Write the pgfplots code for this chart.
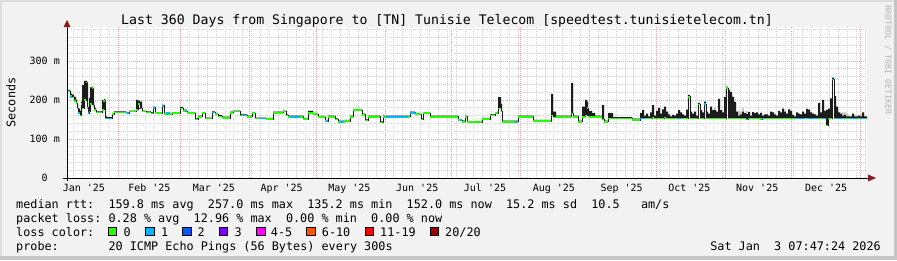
\documentclass[border=0pt]{standalone}
\usepackage{pgfplots}
\pgfplotsset{compat=1.18}
\usepgfplotslibrary{fillbetween}
\usepackage{pgfplotstable}
\usepackage{fontspec}
\setmainfont{DejaVu Sans Mono}
\setmonofont{DejaVu Sans Mono}
\definecolor{bgc}{HTML}{F2F2F2}
\definecolor{frameL}{HTML}{DCDCDC}
\definecolor{frameD}{HTML}{C4C4C4}
\definecolor{lc0}{HTML}{26FF00}
\definecolor{lc1}{HTML}{00B8FF}
\definecolor{lc2}{HTML}{0059FF}
\definecolor{lc3}{HTML}{7E00FF}
\definecolor{lc4}{HTML}{FF00FF}
\definecolor{lc6}{HTML}{FF5500}
\definecolor{lc11}{HTML}{FF0000}
\definecolor{lc20}{HTML}{A10000}
\definecolor{mgrid}{HTML}{F2A0A0}
\definecolor{ngrid}{HTML}{D6D6D6}
\definecolor{arr}{HTML}{8B1A1A}
\definecolor{smoke}{HTML}{1C1C1C}
\definecolor{smokeg}{HTML}{C8C8C8}
\definecolor{rrdg}{HTML}{B4B4B4}
\newcommand\lgfont{\ttfamily\fontsize{11.8}{14}\selectfont}
\newcommand\tkfont{\ttfamily\fontsize{10}{12}\selectfont}

\pgfplotstableread{
x m t g
7.90 224 228 228
8.35 222 226 226
9.25 210 216 216
10.15 206 214 214
11.05 198 208 208
11.95 192 200 200
12.40 178 190 190
12.85 166 178 178
13.75 160 172 172
14.20 190 196 196
14.65 178 238 238
15.55 200 249 249
16.45 245 249 249
16.90 180 240 240
17.35 166 172 172
17.80 170 205 205
18.25 190 232 232
19.15 230 234 234
19.60 185 200 200
20.05 174 180 180
20.95 168 171 171
23.65 175 200 200
24.55 198 202 202
25.00 152 158 158
25.90 153 156 156
28.15 164 167 167
29.05 168 171 171
34.45 166 169 169
35.80 170 173 173
38.95 175 200 200
39.85 190 198 198
40.75 178 196 196
41.65 170 173 173
43.45 168 171 171
45.70 165 168 168
46.60 180 183 183
47.50 166 169 169
50.65 185 188 188
51.55 164 167 167
55.15 166 169 169
58.75 178 182 182
60.10 172 175 175
61.90 166 169 169
65.50 150 153 153
66.85 157 160 160
68.65 166 169 169
70.00 152 155 155
73.15 168 171 171
74.50 164 167 167
75.85 158 161 161
77.65 154 157 157
81.25 167 170 170
82.60 170 173 173
85.75 160 163 163
88.90 157 160 160
91.15 166 169 169
92.50 152 155 155
97.45 151 154 154
100.60 167 170 170
105.10 170 173 173
106.45 160 163 163
107.35 157 160 160
114.10 151 154 154
116.35 166 172 172
118.60 164 167 167
120.85 156 159 159
124.00 146 149 149
125.35 157 160 160
128.50 150 153 153
129.85 144 147 147
133.00 146 149 149
135.25 157 160 160
136.60 174 177 177
140.65 162 165 165
142.00 147 150 150
143.35 157 160 160
148.75 142 145 145
150.10 157 160 160
162.25 167 170 170
164.50 164 167 167
167.20 150 153 153
168.10 166 169 169
171.25 157 160 160
183.85 148 151 151
185.65 144 147 147
187.00 157 160 160
187.90 143 146 146
194.65 151 154 154
198.25 160 163 163
200.50 166 169 169
201.85 178 207 207
203.20 170 190 190
203.65 144 147 147
210.85 157 160 160
217.60 146 149 149
225.70 160 215 215
226.60 155 170 170
227.95 157 160 160
234.70 165 243 243
235.60 157 160 160
237.85 144 147 147
239.65 157 183 183
241.00 160 200 200
241.90 179 196 196
242.35 157 172 172
244.15 157 166 166
245.50 157 160 160
248.65 150 187 187
249.55 144 147 147
251.35 153 166 166
253.60 153 156 156
262.15 149 152 152
265.75 152 166 166
266.65 152 174 174
267.55 153 160 160
268.45 153 165 165
269.35 153 158 158
270.25 153 168 168
271.15 155 187 187
272.05 153 160 160
272.95 153 172 172
273.85 153 180 180
274.75 153 165 165
275.65 153 176 176
276.55 155 183 183
277.45 153 170 170
278.35 153 163 163
279.25 153 158 158
280.15 153 162 162
281.05 153 160 160
281.95 153 165 165
282.85 153 174 174
283.75 153 168 168
284.65 152 163 163
285.55 152 160 160
286.45 153 175 175
287.35 208 213 213
288.25 153 170 170
289.15 153 165 165
290.05 153 170 170
290.95 153 160 160
291.85 188 192 192
292.75 153 174 174
293.65 153 168 168
294.55 190 196 196
295.45 153 170 170
296.35 153 165 165
297.25 153 183 183
298.15 153 174 174
299.05 153 174 183
299.95 153 170 170
300.85 153 203 203
301.75 153 174 174
302.65 153 168 168
303.55 153 208 208
304.45 230 234 234
305.35 153 226 226
306.25 153 220 220
307.15 153 208 208
308.05 153 195 195
308.95 153 170 170
309.85 153 160 173
310.75 153 163 170
311.65 153 170 180
312.55 153 166 166
313.45 150 164 172
314.35 153 169 169
315.25 153 160 160
316.15 153 169 169
317.05 153 166 166
317.95 153 168 168
318.85 153 163 163
319.75 151 166 170
320.65 153 160 160
321.55 153 163 163
322.45 153 163 163
323.35 152 160 160
324.25 152 170 170
325.15 152 168 168
326.05 152 163 163
326.95 152 160 160
327.85 152 172 172
328.75 152 168 168
329.65 152 178 178
330.55 152 170 170
331.45 152 165 165
332.35 152 176 176
333.25 152 172 172
334.15 152 162 162
335.05 152 158 158
335.95 152 168 168
336.85 152 165 165
337.75 152 163 163
338.65 152 170 170
339.55 152 165 165
340.45 152 177 177
341.35 152 175 175
342.25 152 168 168
343.15 152 165 165
344.05 152 163 163
344.95 152 160 160
345.85 152 192 192
346.75 152 168 168
347.65 152 200 200
348.55 152 172 172
349.45 135 175 175
350.35 152 178 178
351.25 152 204 204
352.15 252 257 257
353.05 152 210 210
353.95 152 183 183
354.85 152 168 168
355.75 152 165 165
356.65 152 160 168
357.55 152 162 168
358.45 152 158 165
359.35 152 158 162
360.25 152 158 158
361.15 152 165 165
362.05 152 158 160
362.95 152 158 162
363.85 152 160 160
364.75 152 158 163
365.65 152 168 168
366.55 152 158 158
367.45 152 158 158
367.90 152 158 158
}\rtt

\newcommand\lgt[3]{\node[anchor=base west, inner sep=0pt, font=\lgfont] at ({16pt+#1*7.1pt},{-#2pt}) {#3};}
\newcommand\lbox[2]{\filldraw[fill=#2, draw=black, line width=0.8pt] ({#1pt},-227pt) rectangle ({#1pt+8.5pt},-235.5pt);}

\begin{document}
\begin{tikzpicture}
\begin{axis}[
  set layers, clip=false,
  at={(67pt,-178pt)}, anchor=south west,
  scale only axis, width=800pt, height=151pt,
  xmin=7.9, xmax=367.9, ymin=0, ymax=387,
  axis line style={draw=none},
  major tick length=0pt, minor tick length=0pt,
  xtick={31,59,90,120,151,181,212,243,273,304,334,365},
  xticklabels={},
  minor xtick={11,15,...,367},
  ytick={0,100,200,300},
  yticklabels={{0\hphantom{xx}},100 m,200 m,300 m},
  minor ytick={20,40,60,80,120,140,160,180,220,240,260,280,320,340,360,380},
  grid=both,
  major grid style={mgrid, dash pattern=on 1pt off 1pt, line width=0.8pt},
  minor grid style={ngrid, dash pattern=on 1pt off 1pt, line width=0.8pt},
  extra x ticks={15.5,45,74,104.5,135,165.5,196,227,257.5,288,318.5,349.5},
  extra x tick labels={Jan '25,Feb '25,Mar '25,Apr '25,May '25,Jun '25,Jul '25,Aug '25,Sep '25,Oct '25,Nov '25,Dec '25},
  extra x tick style={grid=none},
  xticklabel style={font=\tkfont, anchor=base, inner sep=0pt, yshift=-13pt},
  yticklabel style={font=\tkfont, anchor=east, inner sep=0pt, xshift=-7pt},
  /pgf/number format/assume math mode=true,
  unbounded coords=jump,
]
\begin{pgfonlayer}{axis background}
\fill[bgc] (axis description cs:-0.08375,1.178808) rectangle (axis description cs:1.0375,-0.543046);
\fill[frameL] (axis description cs:-0.08375,1.178808) rectangle (axis description cs:1.0375,1.165563);
\fill[frameL] (axis description cs:-0.08375,1.178808) rectangle (axis description cs:-0.08125,-0.543046);
\fill[frameD] (axis description cs:-0.08375,-0.516556) rectangle (axis description cs:1.0375,-0.543046);
\fill[frameD] (axis description cs:1.03375,1.178808) rectangle (axis description cs:1.0375,-0.543046);
\fill[white] (axis description cs:0,0) rectangle (axis description cs:1,1);
\end{pgfonlayer}
\addplot[name path=G, draw=none, const plot] table[x=x,y=g]{\rtt};
\addplot[name path=T, draw=none, const plot] table[x=x,y=t]{\rtt};
\addplot[name path=M, draw=none, const plot] table[x=x,y=m]{\rtt};
\addplot[smokeg] fill between[of=G and T];
\addplot[smoke] fill between[of=T and M];
\addplot[smoke, line width=0.7pt, const plot] table[x=x,y=m]{\rtt};
\addplot[lc0, line width=1.6pt, jump mark left] table[x=x,y=m]{\rtt};
\addplot[lc1, line width=1.6pt] coordinates {
(7.90,224)(8.80,224)(8.80,nan)
(9.25,208)(10.15,208)(10.15,nan)
(12.85,166)(13.75,166)(13.75,nan)
(17.35,166)(17.80,166)(17.80,nan)
(24.10,198)(24.55,198)(24.55,nan)
(25.90,153)(28.15,153)(28.15,nan)
(34.45,166)(35.80,166)(35.80,nan)
(46.60,180)(47.50,180)(47.50,nan)
(50.65,185)(51.55,185)(51.55,nan)
(52.45,166)(54.25,166)(54.25,nan)
(61.00,172)(61.90,172)(61.90,nan)
(73.15,168)(74.50,168)(74.50,nan)
(86.20,160)(88.45,160)(88.45,nan)
(94.75,152)(97.45,152)(97.45,nan)
(108.25,157)(112.75,157)(112.75,nan)
(124.45,146)(125.35,146)(125.35,nan)
(130.30,144)(132.55,144)(132.55,nan)
(151.00,157)(161.35,157)(161.35,nan)
(162.25,167)(164.50,167)(164.50,nan)
(184.75,148)(185.65,148)(185.65,nan)
(209.50,144)(210.85,144)(210.85,nan)
(265.75,152)(268.00,152)(268.00,nan)
(282.85,153)(284.20,153)(284.20,nan)
(294.55,190)(295.45,190)(295.45,nan)
(313.45,150)(314.35,150)(314.35,nan)
(320.65,153)(322.45,153)(322.45,nan)
(335.50,152)(340.00,152)(340.00,nan)
(341.35,152)(345.85,152)(345.85,nan)
(347.65,152)(349.45,152)(349.45,nan)
(352.15,252)(353.05,252)(353.05,nan)
(353.95,152)(358.45,152)(358.45,nan)
(360.25,152)(363.85,152)(363.85,nan)
(364.75,152)(367.45,152)
};
\addplot[lc3, line width=1.6pt] coordinates {(40.30,178)(41.20,178)};
\end{axis}
\draw[black, line width=1pt] (63pt,-178pt) -- (869pt,-178pt);
\draw[black, line width=1pt] (67pt,-181pt) -- (67pt,-25pt);
\fill[arr] (868pt,-174.5pt) -- (876pt,-178pt) -- (868pt,-181.5pt) -- cycle;
\fill[arr] (63.5pt,-27pt) -- (67pt,-20pt) -- (70.5pt,-27pt) -- cycle;
\node[anchor=base, inner sep=0pt, font=\ttfamily\fontsize{13.2}{15}\selectfont] at (447pt,-24pt) {Last 360 Days from Singapore to [TN] Tunisie Telecom [speedtest.tunisietelecom.tn]};
\node[rotate=90, inner sep=0pt, font=\lgfont] at (11pt,-102.5pt) {Seconds};
\node[rotate=-90, inner sep=0pt, font=\ttfamily\fontsize{8.3}{10}\selectfont, text=rrdg] at (888pt,-60pt) {RRDTOOL / TOBI OETIKER};
\lgt{0}{208}{median rtt:}
\lgt{13}{208}{159.8 ms avg}
\lgt{27}{208}{257.0 ms max}
\lgt{41}{208}{135.2 ms min}
\lgt{55}{208}{152.0 ms now}
\lgt{69}{208}{15.2 ms sd}
\lgt{81}{208}{10.5}
\lgt{88}{208}{am/s}
\lgt{0}{222}{packet loss:}
\lgt{13}{222}{0.28 \% avg}
\lgt{25}{222}{12.96 \% max}
\lgt{38}{222}{0.00 \% min}
\lgt{50}{222}{0.00 \% now}
\lgt{0}{236}{loss color:}
\lbox{108.3}{lc0}\node[anchor=base west, inner sep=0pt, font=\lgfont] at (123.3pt,-236pt) {0};
\lbox{145.7}{lc1}\node[anchor=base west, inner sep=0pt, font=\lgfont] at (161pt,-236pt) {1};
\lbox{182.7}{lc2}\node[anchor=base west, inner sep=0pt, font=\lgfont] at (197.3pt,-236pt) {2};
\lbox{219.3}{lc3}\node[anchor=base west, inner sep=0pt, font=\lgfont] at (234.3pt,-236pt) {3};
\lbox{256.7}{lc4}\node[anchor=base west, inner sep=0pt, font=\lgfont] at (270.7pt,-236pt) {4-5};
\lbox{306.7}{lc6}\node[anchor=base west, inner sep=0pt, font=\lgfont] at (321.7pt,-236pt) {6-10};
\lbox{365}{lc11}\node[anchor=base west, inner sep=0pt, font=\lgfont] at (380pt,-236pt) {11-19};
\lbox{430}{lc20}\node[anchor=base west, inner sep=0pt, font=\lgfont] at (445pt,-236pt) {20/20};
\lgt{0}{250}{probe:}
\lgt{13}{250}{20 ICMP Echo Pings (56 Bytes) every 300s}
\node[anchor=base east, inner sep=0pt, font=\lgfont] at (881pt,-250pt) {Sat Jan~~3 07:47:24 2026};
\pgfresetboundingbox
\path[use as bounding box] (0,0) rectangle (897pt,-260pt);
\end{tikzpicture}
\end{document}
